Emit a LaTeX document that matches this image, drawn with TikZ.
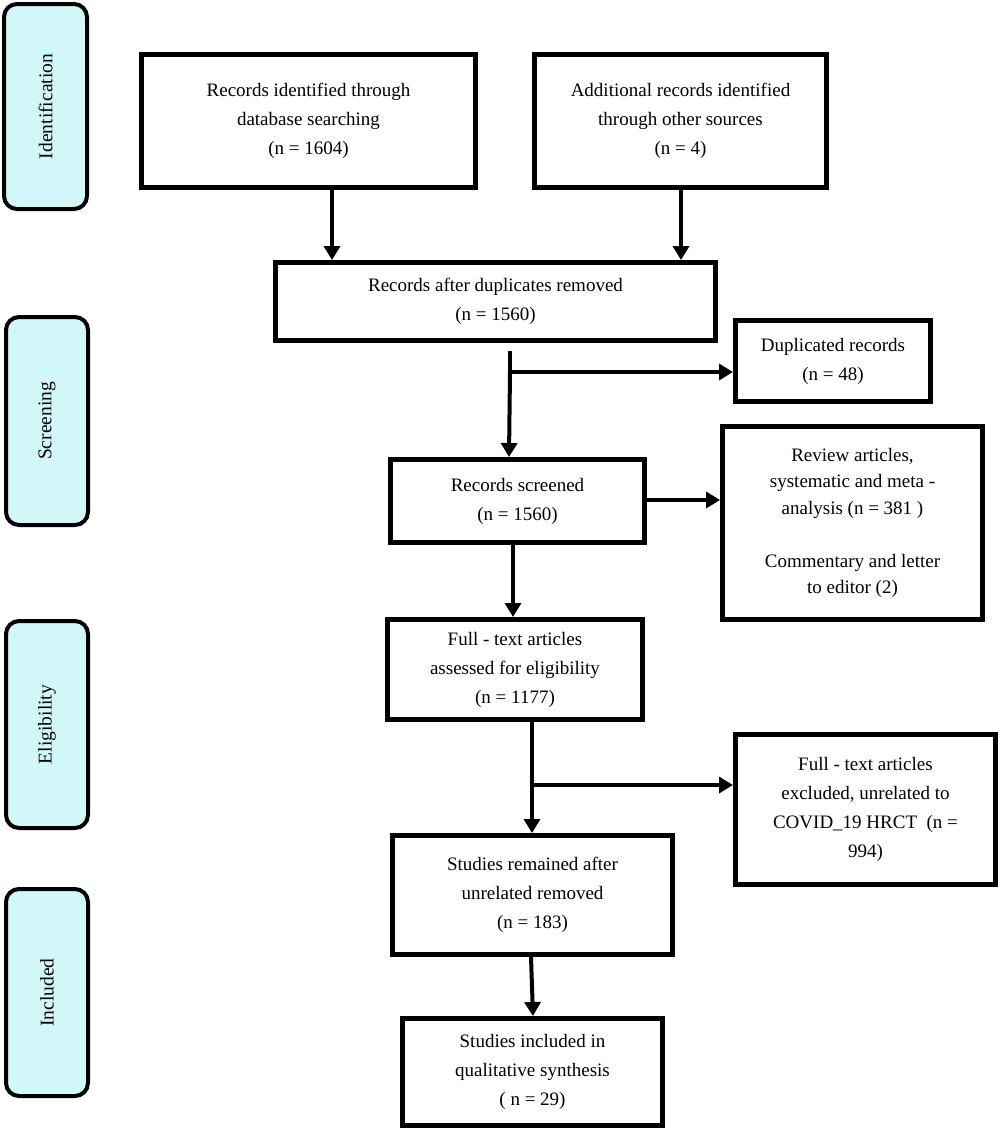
\documentclass[tikz,border=0pt]{standalone}
\usepackage{fontspec}
\setmainfont{Liberation Serif}
\usetikzlibrary{arrows.meta}
\definecolor{stagecyan}{HTML}{D2F7F9}
\tikzset{
  pbox/.style={draw, line width=5pt, rectangle, inner sep=0pt, align=center,
    font=\fontsize{19}{29}\selectfont},
  stagebox/.style={draw, line width=4pt, rounded corners=13pt, fill=stagecyan, inner sep=0pt},
  stagelabel/.style={rotate=90, font=\fontsize{19.5}{21}\selectfont, inner sep=0pt},
  conn/.style={line width=4pt},
  arr/.style={conn, -{Triangle[width=16pt,length=14pt]}},
}
% name, L, T, R, B, style, text
\newcommand\pbx[7]{%
  \node[#6, minimum width={(#4-#2-5)*1pt}, minimum height={(#5-#3-5)*1pt}]
    (#1) at ({(#2+#4)/2*1pt},{-(#3+#5)/2*1pt}) {#7};}
\newcommand\stg[6]{%
  \node[stagebox, minimum width={(#4-#2-4)*1pt}, minimum height={(#5-#3-4)*1pt}]
    (#1) at ({(#2+#4)/2*1pt},{-(#3+#5)/2*1pt}) {};
  \node[stagelabel] (#1t) at (#1.center) {#6};}
\begin{document}
\begin{tikzpicture}
\useasboundingbox (0,0) rectangle (1000pt,-1130pt);
% stage boxes
\stg{sid}{2}{2}{89}{211}{Identification}
\stg{ssc}{4}{315}{90}{527}{Screening}
\stg{sel}{4}{619}{90}{830}{Eligibility}
\stg{sin}{4}{887}{90}{1098}{Included}
% process boxes
\pbx{b1}{139}{52}{478}{190}{pbox}{Records identified through\\database searching\\(n = 1604)}
\pbx{b2}{532}{52}{829}{190}{pbox}{Additional records identified\\through other sources\\(n = 4)}
\pbx{b3}{273}{260}{718}{343}{pbox}{Records after duplicates removed\\(n = 1560)}
\pbx{dup}{733}{318}{933}{404}{pbox}{Duplicated records\\(n = 48)}
\pbx{b4}{388}{457}{647}{545}{pbox}{Records screened\\(n = 1560)}
\pbx{rev}{720}{424}{985}{622}{pbox, font=\fontsize{19}{26.5}\selectfont}{Review articles,\\systematic and meta -\\analysis (n = 381 )\\[26.5pt]Commentary and letter\\to editor (2)}
\pbx{b5}{385}{617}{645}{722}{pbox}{Full - text articles\\assessed for eligibility\\(n = 1177)}
\pbx{exc}{733}{732}{998}{887}{pbox}{Full - text articles\\excluded, unrelated to\\COVID\_19 HRCT\ \ (n =\\994)}
\pbx{b6}{390}{833}{675}{957}{pbox}{Studies remained after\\unrelated removed\\(n = 183)}
\pbx{b7}{400}{1016}{665}{1128}{pbox}{Studies included in\\qualitative synthesis\\( n = 29)}
% connectors
\draw[arr] (332pt,0 |- b1.south) -- (332pt,0 |- b3.north);
\draw[arr] (681pt,0 |- b2.south) -- (681pt,0 |- b3.north);
\coordinate (s1) at (510pt,-351pt);
\coordinate (j1) at (510pt,-372pt);
\draw[conn] (s1) -- (j1);
\draw[arr] (j1) -- (dup.west |- j1);
\draw[arr] (j1) -- (509pt,0 |- b4.north);
\draw[arr] (b4.east |- 0,-500pt) -- (rev.west |- 0,-500pt);
\draw[arr] (513pt,0 |- b4.south) -- (513pt,0 |- b5.north);
\coordinate (j2) at (532pt,-785pt);
\draw[conn] (532pt,0 |- b5.south) -- (j2);
\draw[arr] (j2) -- (exc.west |- j2);
\draw[arr] (j2) -- (532pt,0 |- b6.north);
\draw[arr] (531pt,0 |- b6.south) -- (533pt,0 |- b7.north);
\end{tikzpicture}
\end{document}
